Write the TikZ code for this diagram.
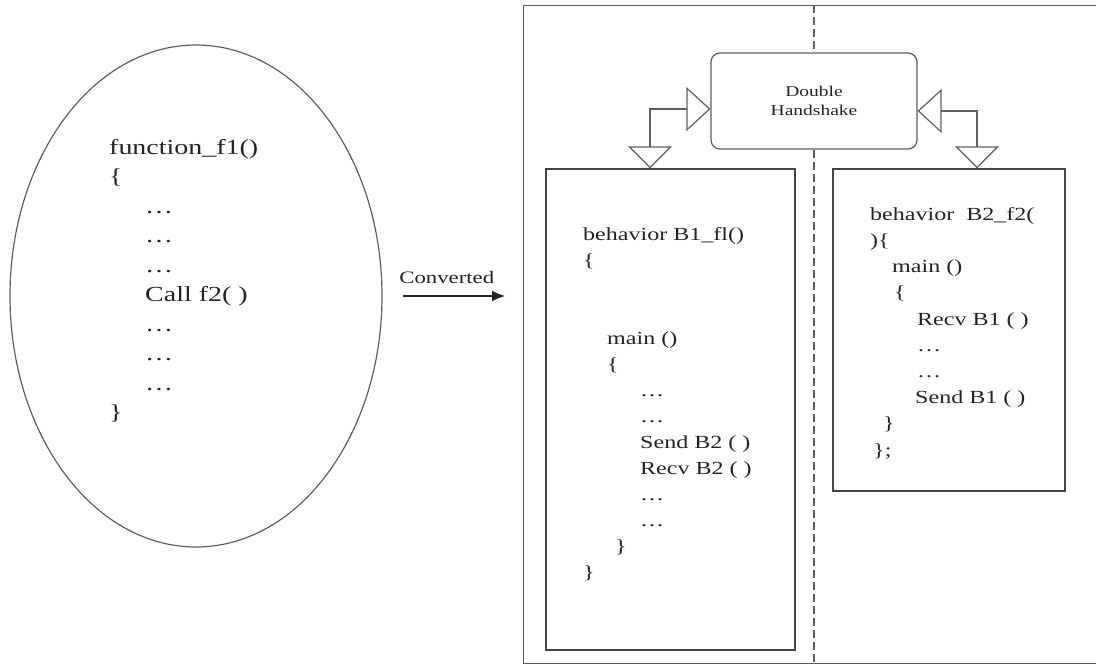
\documentclass[tikz,border=0pt]{standalone}
\usepackage{fontspec}
\setmainfont{Liberation Serif}
\newfontfamily\codefont[FakeStretch=1.3]{Liberation Serif}
\usetikzlibrary{arrows.meta,shapes.geometric}
\definecolor{edge}{RGB}{100,92,90}
\definecolor{ink}{RGB}{35,35,35}

\begin{document}
\begin{tikzpicture}[x=1pt, y=-1pt,
  >={Latex[length=13pt,width=11pt]},
  code/.style={anchor=north west, inner sep=0pt, align=left, text=ink},
  blk/.style={draw=ink!85, line width=1.4pt, inner sep=0pt},
  hsk/.style={draw=edge, line width=1.2pt, rounded corners=9pt, inner sep=0pt, align=center,
              text=ink, font=\codefont\fontsize{15}{19}\selectfont},
  hand/.style={draw=edge, line width=1.2pt,
               {Triangle[open,length=24pt,width=44pt]}-{Triangle[open,length=22pt,width=44pt]}}]

  \useasboundingbox (0,0) rectangle (1096,665);

  % --- the source function ---
  \node[draw=edge, line width=1.2pt, ellipse, inner sep=0pt,
        minimum width=372pt, minimum height=502pt] (src) at (196,296) {};
  \node[code, font=\codefont\fontsize{21.5}{29.5}\selectfont] (fn) at (109,139)
    {function\_f1()\\
     \{\\
     \hspace*{36pt}\ldots\\
     \hspace*{36pt}\ldots\\
     \hspace*{36pt}\ldots\\
     \hspace*{36pt}Call f2( )\\
     \hspace*{36pt}\ldots\\
     \hspace*{36pt}\ldots\\
     \hspace*{36pt}\ldots\\
     \}};

  % --- the converted side ---
  \begin{scope}
    \clip (0,0) rectangle (1096,665);
    \node[blk, line width=1.2pt, draw=ink!75, anchor=north west,
          minimum width=600pt, minimum height=658pt] (frame) at (523,5) {};
  \end{scope}

  \node[hsk, minimum width=206pt, minimum height=96pt] (hs) at (814,101) {Double\\Handshake};

  \node[blk, minimum width=249pt, minimum height=481pt] (b1) at (670.5,409.5) {};
  \node[blk, minimum width=232pt, minimum height=322pt] (b2) at (949,330) {};

  \node[code, font=\codefont\fontsize{18.5}{26}\selectfont] (b1txt) at (583,227)
    {behavior B1\_fl()\\
     \{\\[52pt]
     \hspace*{24pt}main ()\\
     \hspace*{24pt}\{\\
     \hspace*{57pt}\ldots\\
     \hspace*{57pt}\ldots\\
     \hspace*{57pt}Send B2 ( )\\
     \hspace*{57pt}Recv B2 ( )\\
     \hspace*{57pt}\ldots\\
     \hspace*{57pt}\ldots\\
     \hspace*{32pt}\}\\
     \}};

  \node[code, font=\codefont\fontsize{18.5}{26.2}\selectfont] (b2txt) at (870,207)
    {behavior \ B2\_f2(\\
     )\{\\
     \hspace*{22pt}main ()\\
     \hspace*{24pt}\{\\
     \hspace*{47pt}Recv B1 ( )\\
     \hspace*{47pt}\ldots\\
     \hspace*{47pt}\ldots\\
     \hspace*{45pt}Send B1 ( )\\
     \hspace*{13pt}\}\\
     \hspace*{3pt}\};};

  % --- divider and handshake links ---
  \draw[edge, line width=1.2pt, dash pattern=on 8pt off 4pt] (frame.north -| hs) -- (hs.north);
  \draw[edge, line width=1.2pt, dash pattern=on 8pt off 4pt] (hs.south) -- (hs.south |- frame.south);

  \draw[hand] ([yshift=-8pt]hs.west) -| ([xshift=-20.5pt]b1.north);
  \draw[hand] ([yshift=-10pt]hs.east) -| ([xshift=28pt]b2.north);

  \draw[->, ink, line width=1.2pt, shorten <=20pt, shorten >=18pt]
    (src.east) -- (src.east -| frame.west)
    node[midway, above=8pt, xshift=-6pt, font=\codefont\fontsize{17.5}{20}\selectfont] (conv) {Converted};
\end{tikzpicture}
\end{document}
